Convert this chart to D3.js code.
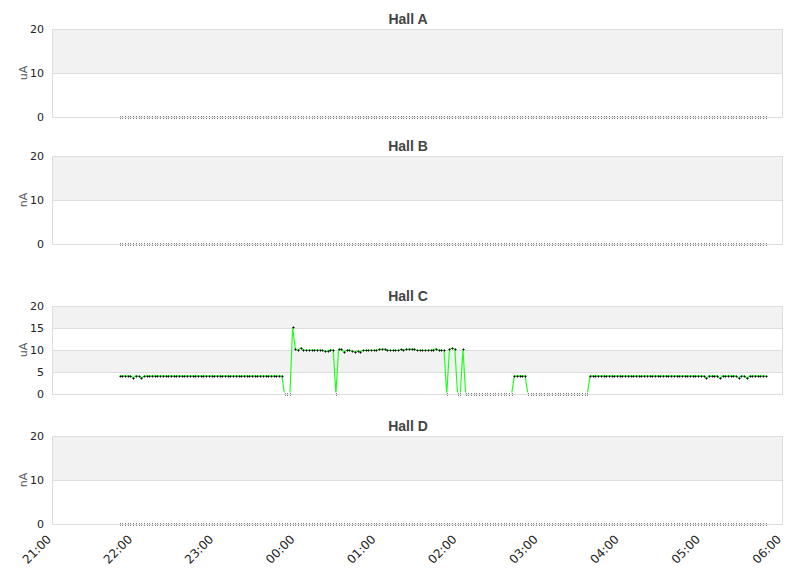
<!DOCTYPE html>
<html>
<head>
<meta charset="utf-8">
<script src="https://cdn.jsdelivr.net/npm/d3@7"></script>
<style>
  body { margin: 0; background: #fff; }
  svg { display: block; font-family: "DejaVu Sans", sans-serif; }
</style>
</head>
<body>
<script>

// panel names, units and y ticks
var hallNames = ['Hall A', 'Hall B', 'Hall C', 'Hall D'];
var hallUnits = ['uA', 'nA', 'uA', 'nA'];
var hallTicks = [[0, 10, 20], [0, 10, 20], [0, 5, 10, 15, 20], [0, 10, 20]];

// x axis: 21:00 -> 06:00, samples every 2 minutes from 21:50
var axisStart = new Date(2020, 0, 1, 21, 0);
var axisEnd = new Date(2020, 0, 2, 6, 0);
var sampleStart = new Date(2020, 0, 1, 21, 50);
var sampleStepMinutes = 2;

// halls A, B and D read zero the whole night
var flatZero = [
  0,0,0,0,0,0,0,0,0,0, 0,0,0,0,0,0,0,0,0,0, 0,0,0,0,0,0,0,0,0,0,
  0,0,0,0,0,0,0,0,0,0, 0,0,0,0,0,0,0,0,0,0, 0,0,0,0,0,0,0,0,0,0,
  0,0,0,0,0,0,0,0,0,0, 0,0,0,0,0,0,0,0,0,0, 0,0,0,0,0,0,0,0,0,0,
  0,0,0,0,0,0,0,0,0,0, 0,0,0,0,0,0,0,0,0,0, 0,0,0,0,0,0,0,0,0,0,
  0,0,0,0,0,0,0,0,0,0, 0,0,0,0,0,0,0,0,0,0, 0,0,0,0,0,0,0,0,0,0,
  0,0,0,0,0,0,0,0,0,0, 0,0,0,0,0,0,0,0,0,0, 0,0,0,0,0,0,0,0,0,0,
  0,0,0,0,0,0,0,0,0,0, 0,0,0,0,0,0,0,0,0,0, 0,0,0,0,0,0,0,0,0,0,
  0,0,0,0,0,0,0,0,0,0, 0,0,0,0,0,0,0,0,0,0, 0,0,0,0,0,0,0,0,0,0
];

var hallC = [
  4.1,4.1,4.1,4.1,4.1,3.7,4.2,4.1,3.6,4.0,
  4.1,4.1,4.1,4.1,4.1,4.1,4.1,4.1,4.1,4.1,
  4.1,4.1,4.1,4.1,4.1,4.1,4.1,4.1,4.1,4.1,
  4.1,4.1,4.1,4.1,4.1,4.1,4.1,4.1,4.1,4.1,
  4.1,4.1,4.1,4.1,4.1,4.1,4.1,4.1,4.1,4.1,
  4.1,4.1,4.1,4.1,4.1,4.1,4.1,4.1,4.1,4.1,
  4.1,0,0,0,15.2,10.2,9.9,10.5,10.0,10.0,
  10.0,10.0,10.0,10.0,10.0,9.9,9.7,9.8,10.1,10.0,
  0,10.2,10.15,9.6,9.9,10.0,9.8,9.6,9.8,9.6,
  9.9,9.9,9.9,9.9,9.9,9.9,10.15,10.2,10.2,9.9,
  9.9,9.9,9.9,9.9,10.15,10.0,10.15,10.2,10.2,10.2,
  9.9,9.9,9.9,9.9,9.9,10.0,10.1,10.3,9.9,9.9,
  9.9,0,10.2,10.4,10.2,0,0,10.2,0,0,
  0,0,0,0,0,0,0,0,0,0,
  0,0,0,0,0,0,4.1,4.1,4.1,4.1,
  4.1,0,0,0,0,0,0,0,0,0,
  0,0,0,0,0,0,0,0,0,0,
  0,0,0,0,4.1,4.1,4.1,4.1,4.1,4.1,
  4.1,4.1,4.1,4.1,4.1,4.1,4.1,4.1,4.1,4.1,
  4.1,4.1,4.1,4.1,4.1,4.1,4.1,4.1,4.1,4.1,
  4.1,4.1,4.1,4.1,4.1,4.1,4.1,4.1,4.1,4.1,
  4.1,4.1,4.1,4.1,4.1,4.1,4.1,3.6,4.1,4.1,
  4.1,4.1,3.6,4.1,4.1,4.1,4.1,4.1,4.1,3.7,
  4.1,4.1,3.6,4.1,4.1,4.1,4.1,4.1,4.1,4.1
];

var hallSeries = [flatZero, flatZero, hallC, flatZero];

var W = 811, H = 578;
var left = 52, right = 782;
var panelTop = [29, 156, 306, 436];
var panelH = 88;

var svg = d3.select("body").append("svg")
    .attr("width", W)
    .attr("height", H);

var x = d3.scaleTime()
    .domain([axisStart, axisEnd])
    .range([left, right]);

hallNames.forEach(function(name, p) {
  var top = panelTop[p];
  var ticks = hallTicks[p];
  var y = d3.scaleLinear()
      .domain([0, d3.max(ticks)])
      .range([top + panelH, top]);

  var g = svg.append("g");

  // alternating bands, grey first from the top
  var bands = d3.pairs(ticks).reverse();
  g.selectAll("rect.band")
    .data(bands)
    .enter().append("rect")
    .attr("x", left)
    .attr("y", function(d) { return y(d[1]); })
    .attr("width", right - left)
    .attr("height", function(d) { return y(d[0]) - y(d[1]); })
    .attr("fill", function(d, i) { return i % 2 == 0 ? "#f2f2f2" : "#ffffff"; });

  // grid lines
  g.selectAll("line.grid")
    .data(ticks)
    .enter().append("line")
    .attr("x1", left)
    .attr("x2", right)
    .attr("y1", function(d) { return Math.round(y(d)) + 0.5; })
    .attr("y2", function(d) { return Math.round(y(d)) + 0.5; })
    .attr("stroke", "#dddddd");

  // y tick labels
  g.selectAll("text.ytick")
    .data(ticks)
    .enter().append("text")
    .attr("x", left - 8)
    .attr("y", function(d) { return y(d); })
    .attr("dy", "0.35em")
    .attr("text-anchor", "end")
    .attr("font-size", "11px")
    .attr("fill", "#222")
    .text(function(d) { return d; });

  // unit
  g.append("text")
    .attr("transform", "translate(27," + (top + panelH / 2) + ") rotate(-90)")
    .attr("text-anchor", "middle")
    .attr("font-size", "11px")
    .attr("fill", "#555")
    .text(hallUnits[p]);

  // title
  g.append("text")
    .attr("x", 408)
    .attr("y", top - 5)
    .attr("text-anchor", "middle")
    .attr("font-family", "'Liberation Sans', Arial, sans-serif")
    .attr("font-size", "14px")
    .attr("font-weight", "bold")
    .attr("fill", "#444")
    .text(name);

  var pts = hallSeries[p].map(function(v, i) {
    return [new Date(sampleStart.getTime() + i * sampleStepMinutes * 60000), v];
  });

  // clip the line so zero readings hide under the bottom edge
  var clipId = "clip" + p;
  svg.append("clipPath").attr("id", clipId)
    .append("rect")
    .attr("x", left)
    .attr("y", top)
    .attr("width", right - left)
    .attr("height", panelH - 1.5);

  var line = d3.line()
    .x(function(d) { return x(d[0]); })
    .y(function(d) { return y(d[1]); });

  g.append("path")
    .datum(pts)
    .attr("clip-path", "url(#" + clipId + ")")
    .attr("d", line)
    .attr("fill", "none")
    .attr("stroke", "#22ff22")
    .attr("stroke-width", 1.2);

  // markers
  g.selectAll("path.mark")
    .data(pts)
    .enter().append("path")
    .attr("transform", function(d) {
      return "translate(" + (Math.round(x(d[0])) + 0.5) + "," + (Math.round(y(d[1])) + 0.5) + ")";
    })
    .attr("d", "M-1,0H1M0,-1V1")
    .attr("stroke", "#000")
    .attr("stroke-width", 1)
    .attr("fill", "none");

  // frame on top, it covers the middle row of the zero markers
  g.append("rect")
    .attr("x", left + 0.5)
    .attr("y", top + 0.5)
    .attr("width", right - left)
    .attr("height", panelH)
    .attr("fill", "none")
    .attr("stroke", "#dddddd");
});

// x axis labels under the last panel
var xticks = x.ticks(d3.timeHour.every(1));
var fmt = d3.timeFormat("%H:%M");
svg.selectAll("text.xtick")
  .data(xticks)
  .enter().append("text")
  .attr("transform", function(d) {
    return "translate(" + (x(d) - 3) + "," + 537 + ") rotate(-45)";
  })
  .attr("text-anchor", "end")
  .attr("dy", "0.35em")
  .attr("font-size", "12px")
  .attr("fill", "#222")
  .text(function(d) { return fmt(d); });

</script>
</body>
</html>
